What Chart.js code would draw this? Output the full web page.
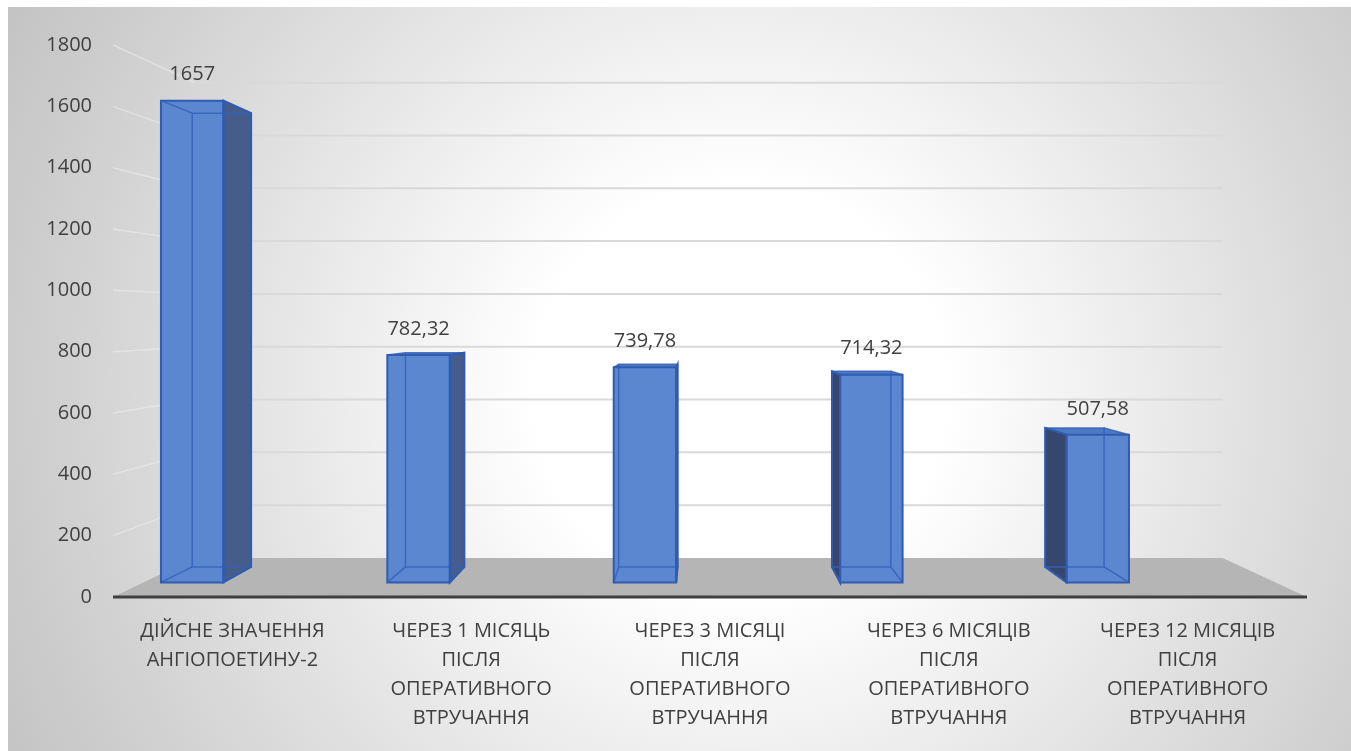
<!DOCTYPE html>
<html>
<head>
<meta charset="utf-8">
<script src="https://cdn.jsdelivr.net/npm/chart.js@4.4.0/dist/chart.umd.min.js"></script>
<style>
  html, body { margin: 0; padding: 0; background: #fff; }
  #wrap { width: 1351px; height: 751px; }
</style>
</head>
<body>
<div id="wrap"><canvas id="results" width="1351" height="751"></canvas></div>
<script>
const categories = [
  ["ДІЙСНЕ ЗНАЧЕННЯ", "АНГІОПОЕТИНУ-2"],
  ["ЧЕРЕЗ 1 МІСЯЦЬ", "ПІСЛЯ", "ОПЕРАТИВНОГО", "ВТРУЧАННЯ"],
  ["ЧЕРЕЗ 3 МІСЯЦІ", "ПІСЛЯ", "ОПЕРАТИВНОГО", "ВТРУЧАННЯ"],
  ["ЧЕРЕЗ 6 МІСЯЦІВ", "ПІСЛЯ", "ОПЕРАТИВНОГО", "ВТРУЧАННЯ"],
  ["ЧЕРЕЗ 12 МІСЯЦІВ", "ПІСЛЯ", "ОПЕРАТИВНОГО", "ВТРУЧАННЯ"],
];
const values = [1657, 782.32, 739.78, 714.32, 507.58];
const yMin = 0;
const yMax = 1800;
const yStep = 200;

const FONT = "'Open Sans', 'Noto Sans', sans-serif";
const TEXT = "#404040";

// one-point perspective: vanishing point and depth factors (1 = floor front edge)
const VP = { x: 700, y: 316 };
const DEPTH = { front: 0.948, back: 0.893, wall: 0.861 };
const BAR_SHIFT = -0.285; // bars sit left of the label centre, in category widths

function project(x, y, k) {
  return [VP.x + (x - VP.x) * k, VP.y + (y - VP.y) * k];
}

function poly(ctx, pts) {
  ctx.beginPath();
  ctx.moveTo(pts[0][0], pts[0][1]);
  for (let i = 1; i < pts.length; i++) ctx.lineTo(pts[i][0], pts[i][1]);
  ctx.closePath();
}

function line(ctx, a, b) {
  ctx.beginPath();
  ctx.moveTo(a[0], a[1]);
  ctx.lineTo(b[0], b[1]);
  ctx.stroke();
}

function fmt(v) {
  return String(v).replace(".", ",");
}

const panel = {
  id: "panel",
  beforeDraw(chart) {
    const ctx = chart.ctx;
    ctx.save();
    ctx.fillStyle = "#ffffff";
    ctx.fillRect(0, 0, chart.width, chart.height);
    const g = ctx.createRadialGradient(740, 390, 0, 740, 390, 820);
    g.addColorStop(0, "#ffffff");
    g.addColorStop(0.25, "#ffffff");
    g.addColorStop(0.85, "#cfcfcf");
    g.addColorStop(1, "#c4c4c4");
    ctx.fillStyle = g;
    ctx.fillRect(8, 7, chart.width - 8, chart.height - 7);
    ctx.restore();
  },
};

const walls = {
  id: "walls",
  beforeDatasetsDraw(chart) {
    const ctx = chart.ctx;
    const { left, right, bottom } = chart.chartArea;
    const ys = chart.scales.y;
    ctx.save();

    // floor
    ctx.fillStyle = "#b5b5b5";
    poly(ctx, [[left, bottom], [right, bottom],
      project(right, bottom, DEPTH.wall), project(left, bottom, DEPTH.wall)]);
    ctx.fill();

    // gridlines on side wall and back wall
    ys.ticks.forEach((t) => {
      if (t.value === yMin) return;
      const y = ys.getPixelForValue(t.value);
      const a = project(left, y, DEPTH.wall);
      const b = project(right, y, DEPTH.wall);
      ctx.strokeStyle = "rgba(235,235,235,0.6)";
      ctx.lineWidth = 1.5;
      line(ctx, [left, y], a);
      ctx.strokeStyle = "#d9d9d9";
      ctx.lineWidth = 2;
      line(ctx, a, b);
    });

    // floor front edge
    ctx.strokeStyle = "#3f3f3f";
    ctx.lineWidth = 3;
    line(ctx, [left, bottom], [right, bottom]);
    ctx.restore();
  },
};

const bars3d = {
  id: "bars3d",
  afterDatasetsDraw(chart) {
    const ctx = chart.ctx;
    const { left, right } = chart.chartArea;
    const catW = (right - left) / categories.length;
    const meta = chart.getDatasetMeta(0);
    ctx.save();
    meta.data.forEach((bar, i) => {
      const { x, y, base, width } = bar.getProps(["x", "y", "base", "width"], true);
      const l = x - width / 2 + catW * BAR_SHIFT;
      const r = x + width / 2 + catW * BAR_SHIFT;
      const F = [project(l, y, DEPTH.front), project(r, y, DEPTH.front),
        project(r, base, DEPTH.front), project(l, base, DEPTH.front)];
      const B = [project(l, y, DEPTH.back), project(r, y, DEPTH.back),
        project(r, base, DEPTH.back), project(l, base, DEPTH.back)];
      const onLeft = (F[0][0] + F[1][0]) / 2 < VP.x;

      // side face
      if (onLeft) {
        ctx.fillStyle = "#465d8c";
        poly(ctx, [F[1], B[1], B[2], F[2]]);
      } else {
        ctx.fillStyle = "#36466c";
        poly(ctx, [B[0], F[0], F[3], B[3]]);
      }
      ctx.fill();

      // top face, when the bar top is below eye level
      if (B[0][1] < F[0][1]) {
        ctx.fillStyle = "#4f78c2";
        poly(ctx, [B[0], B[1], F[1], F[0]]);
        ctx.fill();
      }

      // front face
      ctx.fillStyle = "#5b87d0";
      poly(ctx, F);
      ctx.fill();

      // edges seen through the glass
      ctx.strokeStyle = "rgba(52,98,186,0.85)";
      ctx.lineWidth = 1.5;
      poly(ctx, B);
      ctx.stroke();
      for (let j = 0; j < 4; j++) line(ctx, F[j], B[j]);

      // outer edges
      ctx.strokeStyle = "#2f5cb0";
      ctx.lineWidth = 2;
      poly(ctx, F);
      ctx.stroke();
      if (onLeft) poly(ctx, [F[1], B[1], B[2], F[2]]);
      else poly(ctx, [B[0], F[0], F[3], B[3]]);
      ctx.stroke();

      // value label
      ctx.fillStyle = TEXT;
      ctx.font = "20px " + FONT;
      ctx.textAlign = "center";
      ctx.textBaseline = "middle";
      ctx.fillText(fmt(values[i]), (F[0][0] + F[1][0]) / 2, F[0][1] - 26);
    });
    ctx.restore();
  },
};

new Chart(document.getElementById("results"), {
  type: "bar",
  data: {
    labels: categories,
    datasets: [{
      data: values,
      backgroundColor: "rgba(0,0,0,0)",
      borderWidth: 0,
      categoryPercentage: 1,
      barPercentage: 0.276,
    }],
  },
  options: {
    responsive: false,
    animation: false,
    events: [],
    layout: { padding: { left: 0, right: 44, top: 45, bottom: 0 } },
    plugins: { legend: { display: false }, tooltip: { enabled: false } },
    scales: {
      x: {
        grid: { display: false, drawTicks: false },
        border: { display: false },
        ticks: {
          color: TEXT,
          font: { family: FONT, size: 20, lineHeight: 1.45 },
          padding: 20,
          maxRotation: 0,
          autoSkip: false,
        },
        afterFit(scale) { scale.height = 154; },
      },
      y: {
        min: yMin,
        max: yMax,
        grid: { display: false, drawTicks: false },
        border: { display: false },
        ticks: {
          stepSize: yStep,
          color: TEXT,
          font: { family: FONT, size: 20 },
          padding: 21,
          callback: (value) => String(value),
        },
        afterFit(scale) { scale.width = 113; },
      },
    },
  },
  plugins: [panel, walls, bars3d],
});
</script>
</body>
</html>
